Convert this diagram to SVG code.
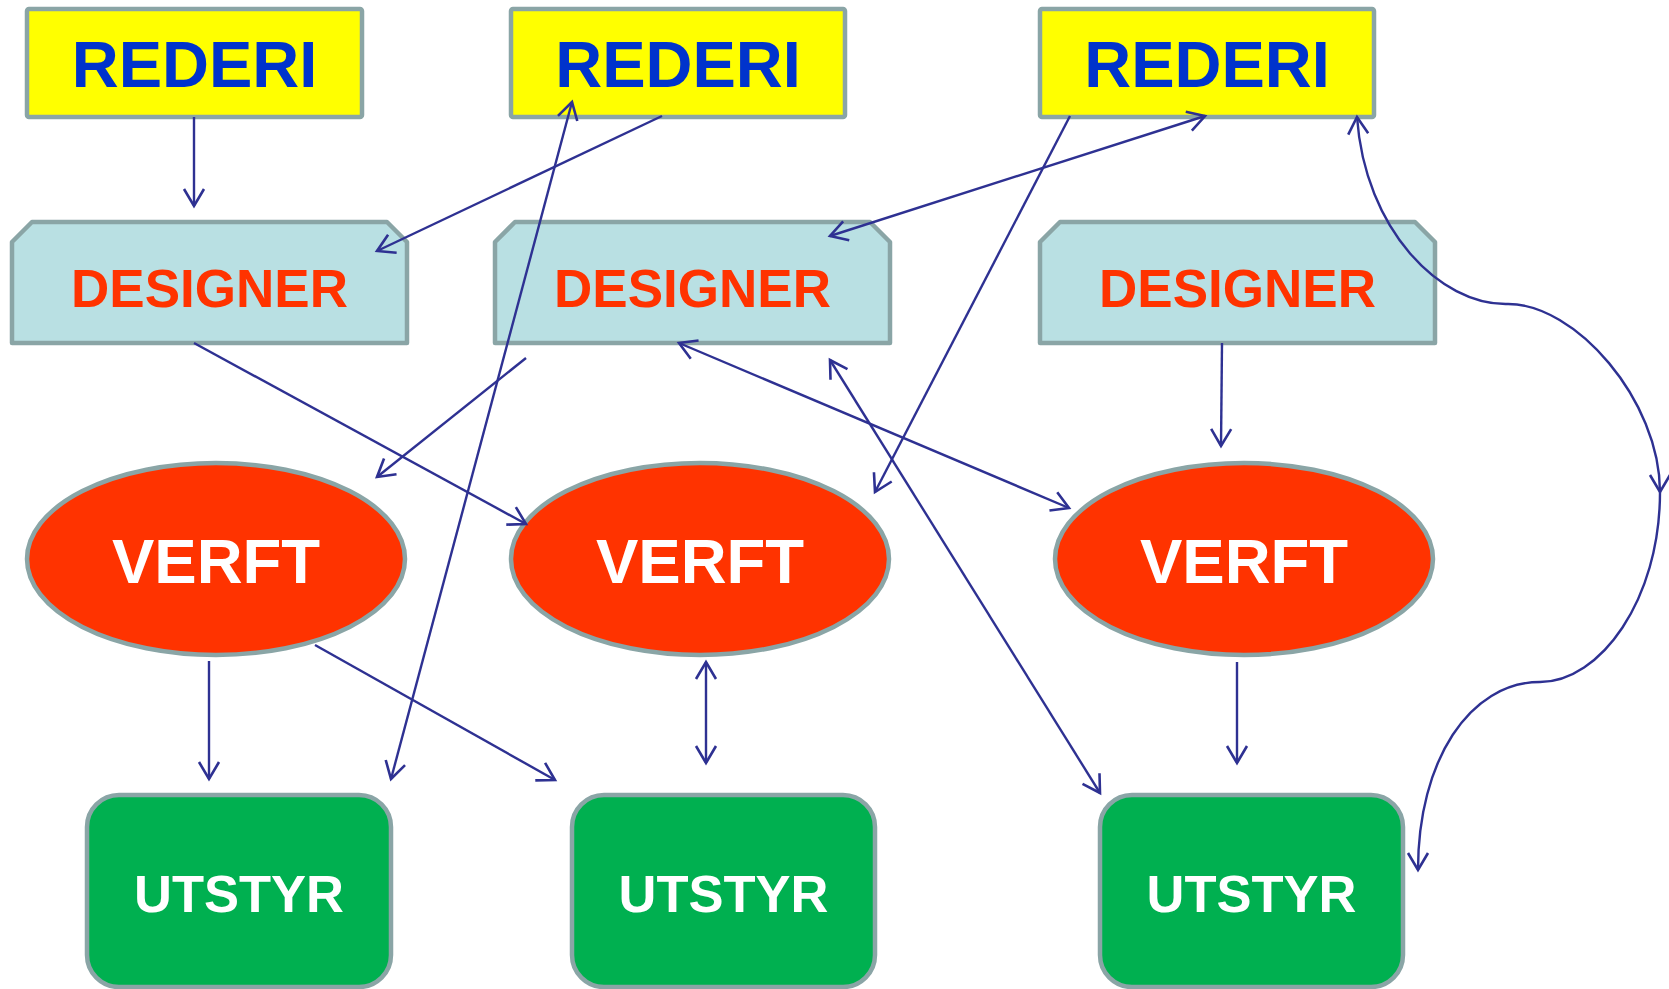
<svg xmlns="http://www.w3.org/2000/svg" width="1669" height="989" viewBox="0 0 1669 989">
<style>
.rederi{fill:#FFFF00;stroke:#8AA5A6;stroke-width:4.5}
.designer{fill:#B9E0E3;stroke:#8AA5A6;stroke-width:4.5;stroke-linejoin:round}
.verft{fill:#FF3300;stroke:#8AA5A6;stroke-width:4.5}
.utstyr{fill:#00B050;stroke:#8AA5A6;stroke-width:4.5}
text{font-family:"Liberation Sans",Arial,sans-serif;font-weight:bold;text-anchor:middle}
.t-r{fill:#0033CC;font-size:65px}
.t-d{fill:#FF3300;font-size:53px}
.t-v{fill:#FFFFFF;font-size:63.5px}
.t-u{fill:#FFFFFF;font-size:52.5px}
.c{fill:none;stroke:#2E3192;stroke-width:2.4}
.a{marker-end:url(#ah)}
.b{marker-start:url(#ah);marker-end:url(#ah)}
</style>
<defs>
<marker id="ah" viewBox="0 0 18 20" refX="17" refY="10" markerWidth="18" markerHeight="20" markerUnits="userSpaceOnUse" orient="auto-start-reverse" overflow="visible">
<path d="M0,0 L17,10 L0,20" fill="none" stroke="#2E3192" stroke-width="2.6"/>
</marker>
</defs>
<rect width="1669" height="989" fill="#FFFFFF"/>
<g id="rederi1"><rect class="rederi" x="27" y="9" width="335" height="108" rx="2"/><text class="t-r" x="194.5" y="87">REDERI</text></g>
<g id="rederi2"><rect class="rederi" x="511" y="9" width="334" height="108" rx="2"/><text class="t-r" x="678" y="87">REDERI</text></g>
<g id="rederi3"><rect class="rederi" x="1040" y="9" width="334" height="108" rx="2"/><text class="t-r" x="1207" y="87">REDERI</text></g>
<g id="designer1"><polygon class="designer" points="12,242 32,222 387,222 407,242 407,343 12,343"/><text class="t-d" x="209.5" y="307">DESIGNER</text></g>
<g id="designer2"><polygon class="designer" points="495,242 515,222 870,222 890,242 890,343 495,343"/><text class="t-d" x="692.5" y="307">DESIGNER</text></g>
<g id="designer3"><polygon class="designer" points="1040,242 1060,222 1415,222 1435,242 1435,343 1040,343"/><text class="t-d" x="1237.5" y="307">DESIGNER</text></g>
<g id="verft1"><ellipse class="verft" cx="216" cy="559" rx="189" ry="96"/><text class="t-v" x="216" y="583">VERFT</text></g>
<g id="verft2"><ellipse class="verft" cx="700" cy="559" rx="189" ry="96"/><text class="t-v" x="700" y="583">VERFT</text></g>
<g id="verft3"><ellipse class="verft" cx="1244" cy="559" rx="189" ry="96"/><text class="t-v" x="1244" y="583">VERFT</text></g>
<g id="utstyr1"><rect class="utstyr" x="87" y="795" width="304" height="192" rx="32"/><text class="t-u" x="239" y="912">UTSTYR</text></g>
<g id="utstyr2"><rect class="utstyr" x="572" y="795" width="303" height="192" rx="32"/><text class="t-u" x="723.5" y="912">UTSTYR</text></g>
<g id="utstyr3"><rect class="utstyr" x="1100" y="795" width="303" height="192" rx="32"/><text class="t-u" x="1251.5" y="912">UTSTYR</text></g>
<g id="connectors">
<line class="c a" x1="194" y1="117" x2="194" y2="206"/>
<line class="c a" x1="662" y1="116" x2="377" y2="251"/>
<line class="c b" x1="391" y1="779" x2="572" y2="102"/>
<line class="c a" x1="1070" y1="116" x2="875" y2="492"/>
<line class="c b" x1="830" y1="236" x2="1205" y2="116"/>
<line class="c a" x1="194" y1="343" x2="526" y2="524"/>
<line class="c a" x1="526" y1="358" x2="377" y2="477"/>
<line class="c b" x1="679" y1="343" x2="1069" y2="508"/>
<line class="c b" x1="830" y1="360" x2="1100" y2="793"/>
<line class="c a" x1="1222" y1="343" x2="1221" y2="446"/>
<line class="c a" x1="209" y1="661" x2="209" y2="779"/>
<line class="c a" x1="315" y1="645" x2="555" y2="780"/>
<line class="c b" x1="706" y1="662" x2="706" y2="763"/>
<line class="c a" x1="1237" y1="662" x2="1237" y2="763"/>
<path class="c b" d="M1357,117 C1365,230 1440,305 1507,304 C1575,303 1660,400 1660,492"/>
<path class="c a" d="M1660,492 C1660,600 1600,682 1540,682 C1470,682 1418,760 1418,870"/>
</g>
</svg>
